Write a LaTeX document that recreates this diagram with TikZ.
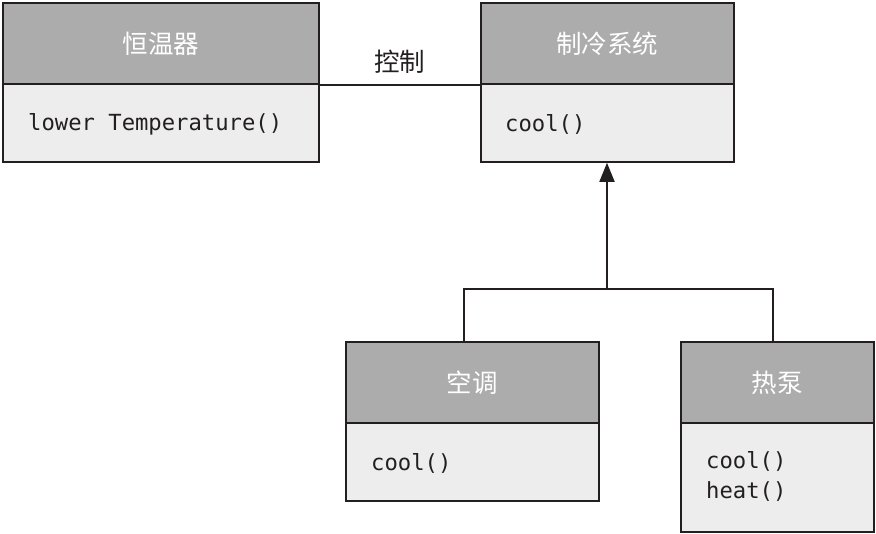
\documentclass[tikz,border=0pt]{standalone}
\usepackage{fontspec}
\setmonofont{DejaVu Sans Mono}
\newfontfamily\cjk{Noto Sans CJK SC}
\usetikzlibrary{arrows.meta}
\definecolor{hdrgray}{HTML}{ABACAB}
\definecolor{bodygray}{HTML}{ECEDEC}
\definecolor{ink}{HTML}{231F20}
\tikzset{
  hdr/.style={draw=ink, line width=1.8pt, fill=hdrgray, anchor=north west, inner sep=0pt, text=white, font=\cjk\fontsize{25.5}{29}\selectfont},
  bodybox/.style={draw=ink, line width=1.8pt, fill=bodygray, anchor=north west, inner sep=0pt},
  meth/.style={anchor=west, inner sep=0pt, text=ink, font=\ttfamily\fontsize{22.2}{30}\selectfont, align=left},
  conn/.style={draw=ink, line width=1.8pt},
  lbl/.style={inner sep=0pt, text=ink, font=\cjk\fontsize{25.5}{29}\selectfont}
}
\begin{document}
\begin{tikzpicture}[x=1pt,y=-1pt]
\useasboundingbox (0,0) rectangle (876,534);
% thermostat
\node[bodybox, minimum width=316pt, minimum height=78pt] (tb) at (2,83) {};
\node[hdr, minimum width=316pt, minimum height=81pt] (th) at (2,2) {恒温器};
\node[meth] (tm) at (28,124.5) {lower Temperature()};
% cooling system
\node[bodybox, minimum width=253pt, minimum height=78pt] (cb) at (480,83) {};
\node[hdr, minimum width=253pt, minimum height=81pt] (ch) at (480,2) {制冷系统};
\node[meth] (cm) at (505,124.5) {cool()};
% air conditioner
\node[bodybox, minimum width=253pt, minimum height=78pt] (ab) at (345,422) {};
\node[hdr, minimum width=253pt, minimum height=81pt] (ah) at (345,341) {空调};
\node[meth] (am) at (371,463.5) {cool()};
% heat pump
\node[bodybox, minimum width=193pt, minimum height=109pt] (pb) at (680,422) {};
\node[hdr, minimum width=193pt, minimum height=81pt] (ph) at (680,341) {热泵};
\node[meth, anchor=north west] (pm) at (706,451.5) {cool()\\heat()};
% association
\draw[conn] (th.south east) -- (ch.south west) node[midway, lbl, above=10pt] (ctl) {控制};
% inheritance
\coordinate (j) at (607,289);
\coordinate (ja) at (464,289);
\coordinate (jp) at (773,289);
\draw[conn, -{Triangle[length=19pt,width=15pt]}] (j) -- (cb.south -| j);
\draw[conn] (ah.north -| ja) -- (ja) -- (jp) -- (ph.north -| jp);
\end{tikzpicture}
\end{document}
